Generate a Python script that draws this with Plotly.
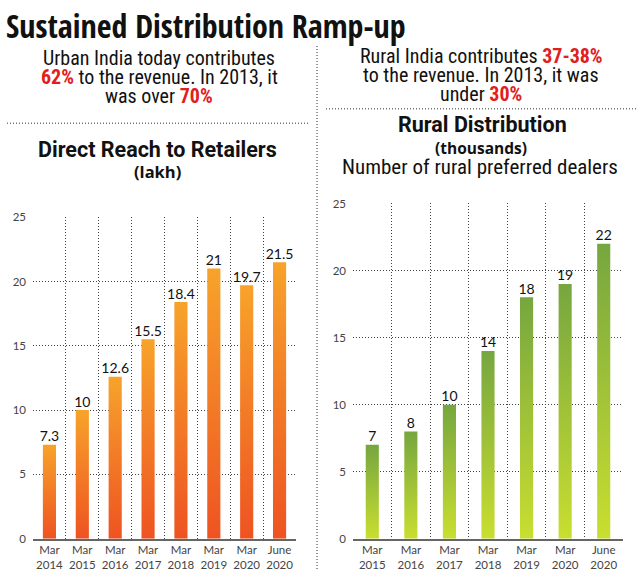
import plotly.graph_objects as go

W, H = 642, 577

# ---------------- data ----------------
left_cats = ["Mar<br>2014", "Mar<br>2015", "Mar<br>2016", "Mar<br>2017",
             "Mar<br>2018", "Mar<br>2019", "Mar<br>2020", "June<br>2020"]
left_vals = [7.3, 10, 12.6, 15.5, 18.4, 21, 19.7, 21.5]
left_labels = ["7.3", "10", "12.6", "15.5", "18.4", "21", "19.7", "21.5"]

right_cats = ["Mar<br>2015", "Mar<br>2016", "Mar<br>2017", "Mar<br>2018",
              "Mar<br>2019", "Mar<br>2020", "June<br>2020"]
right_vals = [7, 8, 10, 14, 18, 19, 22]
right_labels = ["7", "8", "10", "14", "18", "19", "22"]

y_ticks = [0, 5, 10, 15, 20, 25]

# ---------------- styles ----------------
ORANGE = [[0, "#EE5322"], [1, "#F7A32B"]]
GREEN = [[0, "#C9DE30"], [1, "#76A63F"]]
GRID = "#444444"
DOTS = "1px,2px"
TICKFONT = dict(family="Lato", size=11.5, color="#444444")
BODY = "Roboto Condensed"
HEAD = "Open Sans Condensed"
SUBHEAD = "Roboto"


def px(x):
    return x / W


def py(y):
    return 1 - y / H


fig = go.Figure()


def add_bars(vals, labels, colorscale, xref, yref, halfw):
    for i, v in enumerate(vals):
        fig.add_trace(go.Scatter(
            x=[i - halfw, i + halfw, i + halfw, i - halfw, i - halfw],
            y=[0, 0, v, v, 0],
            mode="lines", line=dict(width=0),
            fill="toself",
            fillgradient=dict(type="vertical", colorscale=colorscale),
            hoverinfo="skip", showlegend=False,
            xaxis=xref, yaxis=yref))
    fig.add_trace(go.Scatter(
        x=list(range(len(vals))), y=vals, mode="text", text=labels,
        textposition="top center",
        textfont=dict(family="Lato", size=14, color="#111"),
        hoverinfo="skip", showlegend=False, xaxis=xref, yaxis=yref))


add_bars(left_vals, left_labels, ORANGE, "x", "y", 0.2)
add_bars(right_vals, right_labels, GREEN, "x2", "y2", 0.17)


def xaxis_cfg(cats, domain):
    n = len(cats)
    return dict(
        domain=domain, range=[-0.5, n - 0.5], fixedrange=True,
        tickmode="array", tickvals=list(range(n)), ticktext=cats,
        showgrid=False, showline=True, linecolor="#666666", linewidth=1.5,
        ticks="", tickfont=TICKFONT, zeroline=False,
        minor=dict(tickmode="array",
                   tickvals=[i + 0.5 for i in range(n)],
                   showgrid=True, gridcolor=GRID, griddash=DOTS, gridwidth=1),
    )


def yaxis_cfg(domain, anchor):
    return dict(
        domain=domain, range=[0, 25], anchor=anchor, fixedrange=True,
        tickmode="array", tickvals=y_ticks,
        showgrid=True, gridcolor=GRID, griddash=DOTS, gridwidth=1,
        zeroline=False, showline=False, ticks="", ticklabelstandoff=6,
        tickfont=TICKFONT,
    )


fig.update_layout(
    width=W, height=H,
    margin=dict(l=0, r=0, t=0, b=0),
    paper_bgcolor="white", plot_bgcolor="white",
    xaxis=xaxis_cfg(left_cats, [px(33), px(296)]) | dict(anchor="y"),
    yaxis=yaxis_cfg([py(544), py(215)], "x"),
    xaxis2=xaxis_cfg(right_cats, [px(353), px(623)]) | dict(anchor="y2"),
    yaxis2=yaxis_cfg([py(544), py(201)], "x2"),
)

RED = "#E0201B"
ann = []


def text(x, y, s, size, bold=False, family=BODY, color="#111111", xanchor="center"):
    s = f"<b>{s}</b>" if bold else s
    ann.append(dict(
        x=px(x), y=py(y), xref="paper", yref="paper", showarrow=False,
        xanchor=xanchor, yanchor="middle", text=s,
        font=dict(family=family, size=size, color=color)))


def red(s):
    return f"<b><span style='color:{RED}'>{s}</span></b>"


text(4, 19, "Sustained Distribution Ramp-up", 32, bold=True, family=HEAD, xanchor="left")

text(159, 52, "Urban India today contributes", 20)
text(159, 72, f"{red('62%')} to the revenue. In 2013, it", 20)
text(159, 91, f"was over {red('70%')}", 20)

text(481, 50, f"Rural India contributes {red('37-38%')}", 20)
text(481, 70, "to the revenue. In 2013, it was", 20)
text(481, 89, f"under {red('30%')}", 20)

text(157, 146, "Direct Reach to Retailers", 21.5, bold=True, family=SUBHEAD)
text(157, 168, "(lakh)", 16.5, bold=True, family="Open Sans")

text(482, 120, "Rural Distribution", 21.5, bold=True, family=SUBHEAD)
text(481, 144, "(thousands)", 15.5, bold=True, family="Open Sans")
text(480, 164, "Number of rural preferred dealers", 21)

fig.update_layout(annotations=ann)

# divider lines
dot = dict(color="#777777", width=1.5, dash="1px,2px")
fig.add_shape(type="line", xref="paper", yref="paper",
              x0=px(317), x1=px(317), y0=py(40), y1=py(577), line=dot)
fig.add_shape(type="line", xref="paper", yref="paper",
              x0=px(7), x1=px(308), y0=py(119), y1=py(119), line=dot)
fig.add_shape(type="line", xref="paper", yref="paper",
              x0=px(326), x1=px(636), y0=py(104), y1=py(104), line=dot)

fig.write_html("out.html")
